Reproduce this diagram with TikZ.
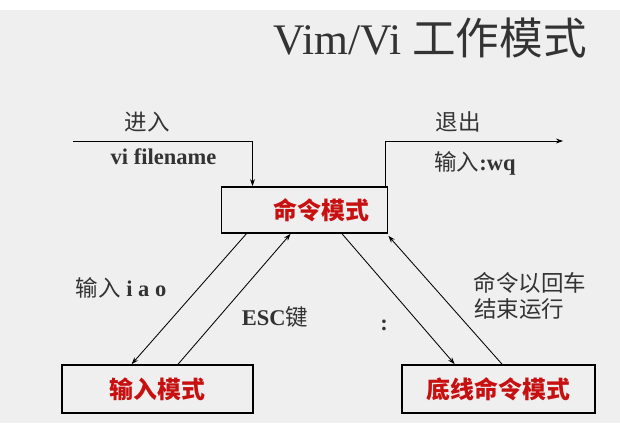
\documentclass[tikz,border=0pt]{standalone}
\usepackage{fontspec}
\setmainfont{Liberation Serif}
\newfontfamily\cjk{Noto Sans CJK SC}
\usetikzlibrary{arrows.meta,calc}
\definecolor{vimbg}{RGB}{239, 239, 239}
\definecolor{vimred}{RGB}{200, 16, 16}
\definecolor{vimgray}{RGB}{51, 51, 51}
\tikzset{
  modebox/.style={draw=black, line width=1.2pt, fill=vimbg, text=vimred, font=\cjk\fontsize{17}{19}\selectfont\bfseries, inner sep=0pt},
  flow/.style={draw=black, line width=0.6pt, -{Stealth[length=5pt,width=3.5pt]}},
  lbl/.style={text=vimgray, font=\fontsize{16}{18}\selectfont, inner sep=0pt},
  cjklbl/.style={lbl, font=\cjk\fontsize{16}{18}\selectfont}
}

\begin{document}
\begin{tikzpicture}[x=0.025cm, y=-0.025cm]
% Background and frame
\useasboundingbox (0,0) rectangle (620,423);
\fill[vimbg] (0,0) rectangle (620,423);
\fill[white] (0,0) rectangle (620,10);

% Title
\node[text=vimgray, font=\fontsize{31}{34}\selectfont] (title) at (430,38) {Vim/Vi {\cjk 工作模式}};

% Mode boxes
\node[modebox, minimum width=4.15cm, minimum height=1.15cm] (cmd) at (304.5,210) {\hspace{0.85cm}命令模式};
\node[modebox, minimum width=4.775cm, minimum height=1.2cm] (inp) at (157.5,389) {输入模式};
\node[modebox, minimum width=4.825cm, minimum height=1.2cm] (bot) at (498.5,389) {底线命令模式};

% Enter and quit
\coordinate (start) at (73,141);
\coordinate (quit) at (563,141);
\draw[flow] (start) -| ($(cmd.north west)!0.19!(cmd.north east)$);
\draw[flow] ($(cmd.north east)+(-3,0)$) |- (quit);
\node[cjklbl] (enter) at (147,122) {进入};
\node[lbl, font=\fontsize{16}{18}\selectfont\bfseries] (vif) at (163.5,157) {vi filename};
\node[cjklbl] (exit) at (458,122) {退出};
\node[lbl] (wq) at (475,163) {{\cjk 输入}\textbf{:wq}};

% Mode transitions
\draw[flow] ($(cmd.south west)!0.153!(cmd.south east)$) -- ($(inp.north west)!0.366!(inp.north east)$);
\draw[flow] ($(inp.north west)!0.607!(inp.north east)$) -- ($(cmd.south west)!0.417!(cmd.south east)$);
\draw[flow] ($(cmd.south west)!0.724!(cmd.south east)$) -- ($(bot.north west)!0.275!(bot.north east)$);
\draw[flow] ($(bot.north west)!0.518!(bot.north east)$) -- ($(cmd.south east)+(0,2)$);

% Transition labels
\node[lbl] (iao) at (121,288) {{\cjk 输入} \textbf{i a o}};
\node[lbl] (esc) at (275,317) {\textbf{ESC}{\cjk 键}};
\node[lbl, font=\fontsize{16}{18}\selectfont\bfseries] (colon) at (384,325) {:};
\node[cjklbl] (ret1) at (530,283) {命令以回车};
\node[cjklbl] (ret2) at (519,309) {结束运行};
\end{tikzpicture}
\end{document}
